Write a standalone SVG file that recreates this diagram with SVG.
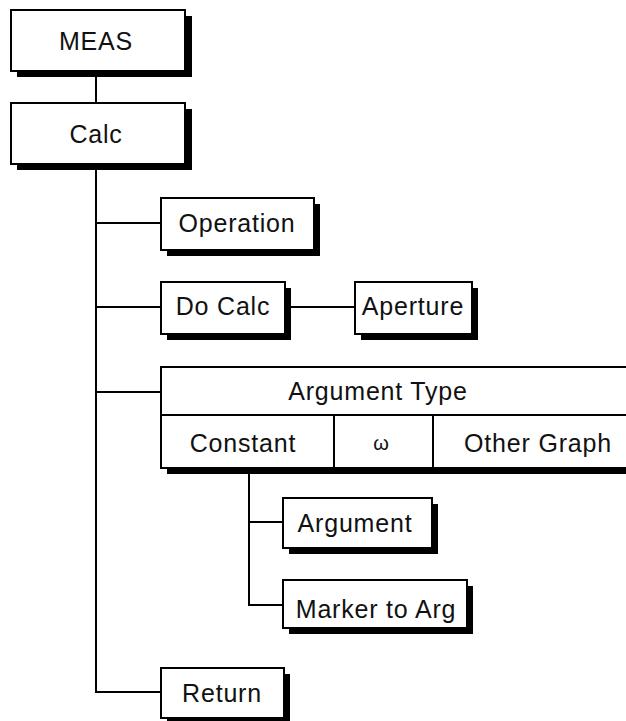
<svg xmlns="http://www.w3.org/2000/svg" width="626" height="721" viewBox="0 0 626 721">
<style>
.box{fill:#fff;stroke:#000;stroke-width:2}
.sh{fill:#000}
.ln{fill:none;stroke:#000;stroke-width:2}
text{font-family:"Liberation Sans",Arial,sans-serif;font-size:25px;letter-spacing:0.8px;fill:#111;text-anchor:middle}
.om{font-size:20px;letter-spacing:0}
</style>
<rect width="626" height="721" fill="#fff"/>
<g id="connectors">
<line class="ln" x1="96" y1="71" x2="96" y2="103"/>
<polyline class="ln" points="96,164 96,692 161,692"/>
<line class="ln" x1="96" y1="223" x2="161" y2="223"/>
<line class="ln" x1="96" y1="307" x2="161" y2="307"/>
<line class="ln" x1="285" y1="307" x2="355" y2="307"/>
<line class="ln" x1="96" y1="392" x2="161" y2="392"/>
<polyline class="ln" points="249,474 249,605 283,605"/>
<line class="ln" x1="249" y1="522" x2="283" y2="522"/>
</g>
<g id="meas">
<rect class="sh" x="17" y="16" width="175" height="61"/>
<rect class="box" x="11" y="10" width="174" height="61"/>
<text x="96" y="50">MEAS</text>
</g>
<g id="calc">
<rect class="sh" x="17" y="109" width="175" height="61"/>
<rect class="box" x="11" y="103" width="174" height="61"/>
<text x="96" y="143">Calc</text>
</g>
<g id="operation">
<rect class="sh" x="167" y="204" width="153" height="52"/>
<rect class="box" x="161" y="198" width="153" height="52"/>
<text x="237" y="232">Operation</text>
</g>
<g id="docalc">
<rect class="sh" x="167" y="288" width="124" height="52"/>
<rect class="box" x="161" y="282" width="124" height="52"/>
<text x="223" y="315">Do Calc</text>
</g>
<g id="aperture">
<rect class="sh" x="361" y="288" width="117" height="52"/>
<rect class="box" x="355" y="282" width="117" height="52"/>
<text x="413" y="315">Aperture</text>
</g>
<g id="argtype">
<rect class="sh" x="167" y="373" width="480" height="101"/>
<rect class="box" x="161" y="367" width="480" height="101"/>
<line class="ln" x1="161" y1="415" x2="641" y2="415"/>
<line class="ln" x1="334" y1="415" x2="334" y2="468"/>
<line class="ln" x1="433" y1="415" x2="433" y2="468"/>
<text x="378" y="400">Argument Type</text>
<text x="243" y="452">Constant</text>
<text class="om" x="381" y="450">ω</text>
<text x="538" y="452">Other Graph</text>
</g>
<g id="argument">
<rect class="sh" x="289" y="504" width="149" height="50"/>
<rect class="box" x="283" y="498" width="149" height="50"/>
<text x="355" y="532">Argument</text>
</g>
<g id="marker">
<rect class="sh" x="289" y="586" width="184" height="48"/>
<rect class="box" x="283" y="580" width="184" height="48"/>
<text x="376" y="618">Marker to Arg</text>
</g>
<g id="return">
<rect class="sh" x="167" y="674" width="123" height="50"/>
<rect class="box" x="161" y="668" width="123" height="50"/>
<text x="222" y="702">Return</text>
</g>
</svg>
